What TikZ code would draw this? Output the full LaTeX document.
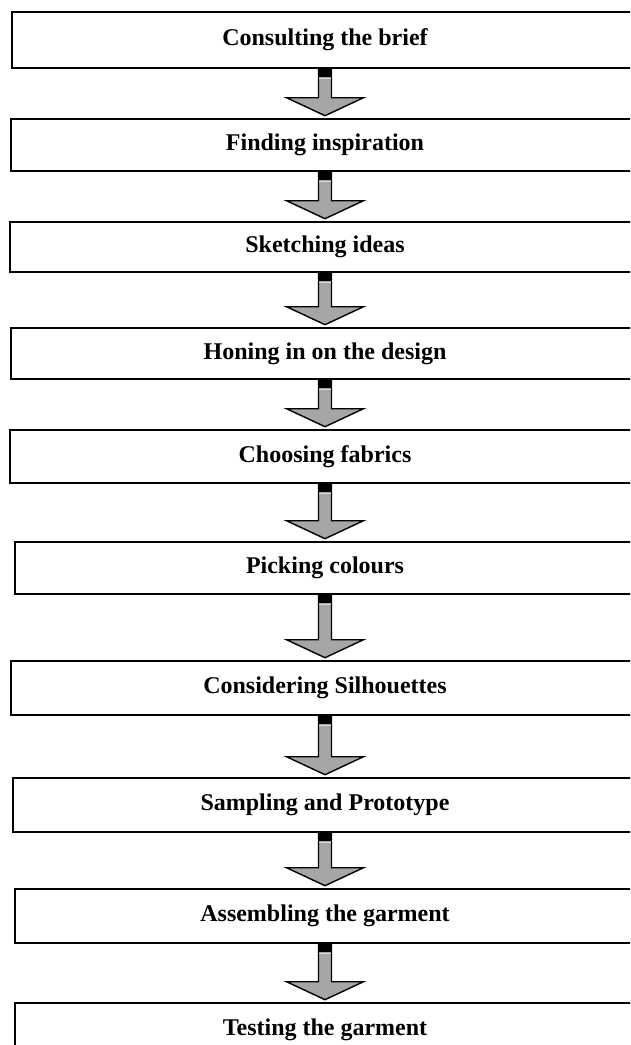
\documentclass[tikz,border=0pt]{standalone}
\usepackage{fontspec}
\setmainfont{Liberation Serif}
\usetikzlibrary{calc}

\begin{document}
\begin{tikzpicture}[x=1pt,y=-1pt,
    stage/.style={draw=black,line width=2.6pt,fill=white,inner sep=0pt,font=\fontsize{24}{28}\selectfont\bfseries},
    blockarrow/.style={draw=black,line width=1.4pt,fill=black!35,line join=miter}]
  \useasboundingbox (0,0) rectangle (630,1045);
  \clip (0,0) rectangle (630,1045);
  \fill[white] (0,0) rectangle (630,1045);
  % the stages, top to bottom
  \foreach \n/\t/\u/\l/\txt in {1/12/68/12/Consulting the brief,
      2/119/171/11/Finding inspiration,
      3/222/272/10/Sketching ideas,
      4/328/379/11/Honing in on the design,
      5/430/483/10/Choosing fabrics,
      6/542/594/15/Picking colours,
      7/661/715/11/Considering Silhouettes,
      8/778/832/13/Sampling and Prototype,
      9/889/943/15/Assembling the garment,
      10/1003/1057/15/Testing the garment}{
    \pgfmathsetmacro\w{650-2*\l}
    \pgfmathsetmacro\h{\u-\t}
    \pgfmathsetmacro\c{(\t+\u)/2}
    \node[stage,minimum width=\w pt,minimum height=\h pt](b\n) at (325,\c){\txt};
  }
  % block arrows between the stages
  \foreach \p/\q in {1/2,2/3,3/4,4/5,5/6,6/7,7/8,8/9,9/10}{
    \draw[blockarrow] ($(b\p.south)+(-6.5,0)$) -- ($(b\q.north)+(-6.5,-20)$)
      -- ($(b\q.north)+(-38.5,-20)$) -- ($(b\q.north)+(0,-2)$)
      -- ($(b\q.north)+(38.5,-20)$) -- ($(b\q.north)+(6.5,-20)$)
      -- ($(b\p.south)+(6.5,0)$) -- cycle;
    \fill[black] ($(b\p.south)+(-7.2,0)$) rectangle ($(b\p.south)+(7.2,8)$);
    \draw[black!15,line width=1pt] ($(b\p.south)+(-5.8,9.2)$) -- ($(b\p.south)+(5.8,9.2)$);
  }
\end{tikzpicture}
\end{document}
